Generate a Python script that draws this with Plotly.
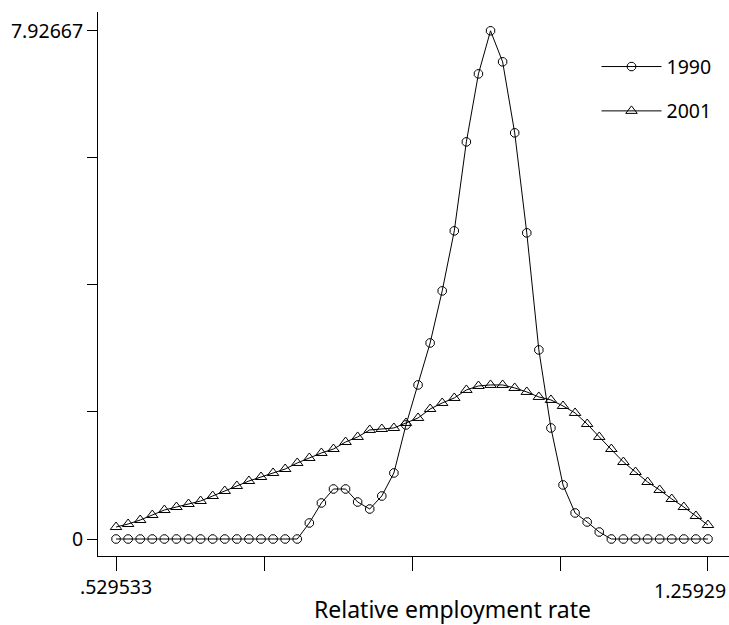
import plotly.graph_objects as go

# Evaluation grid (Relative employment rate)
x_grid = [0.529533, 0.544426, 0.559319, 0.574212, 0.589105, 0.603998, 0.618891, 0.633784,
          0.648677, 0.663570, 0.678463, 0.693356, 0.708249, 0.723142, 0.738035, 0.752928,
          0.767821, 0.782714, 0.797607, 0.812500, 0.827393, 0.842286, 0.857179, 0.872072,
          0.886965, 0.901858, 0.916751, 0.931644, 0.946537, 0.961430, 0.976323, 0.991216,
          1.006109, 1.021002, 1.035895, 1.050788, 1.065681, 1.080574, 1.095467, 1.110360,
          1.125253, 1.140146, 1.155039, 1.169932, 1.184825, 1.199718, 1.214611, 1.229504,
          1.244397, 1.259290]

density_1990 = [0, 0, 0, 0, 0, 0, 0, 0, 0, 0, 0, 0, 0, 0, 0, 0,
                0.250, 0.562, 0.780, 0.780, 0.577, 0.468, 0.671, 1.030,
                1.779, 2.403, 3.058, 3.870, 4.806, 6.194, 7.255, 7.92667,
                7.443, 6.335, 4.775, 2.949, 1.732, 0.843, 0.406, 0.265,
                0.109, 0, 0, 0, 0, 0, 0, 0, 0, 0]

density_2001 = [0.187, 0.234, 0.296, 0.374, 0.452, 0.499, 0.546, 0.593, 0.671, 0.749,
                0.827, 0.905, 0.967, 1.030, 1.092, 1.186, 1.264, 1.342, 1.404, 1.513,
                1.592, 1.701, 1.716, 1.732, 1.810, 1.888, 2.028, 2.122, 2.200, 2.325,
                2.387, 2.403, 2.403, 2.356, 2.294, 2.216, 2.169, 2.075, 1.966, 1.794,
                1.592, 1.404, 1.201, 1.045, 0.889, 0.765, 0.624, 0.499, 0.359, 0.218]

x_tickvals = [0.529533, 0.711972, 0.894412, 1.076851, 1.25929]
x_ticktext = [".529533", "", "", "", ""]
x_last_label = "1.25929"
y_tickvals = [0, 1.98167, 3.96333, 5.945, 7.92667]
y_ticktext = ["0", "", "", "", "7.92667"]

FONT = "Noto Sans"
TICK_SIZE = 19.5
TITLE_SIZE = 23

fig = go.Figure()
fig.add_trace(go.Scatter(
    x=x_grid, y=density_1990, name="1990", mode="lines+markers",
    line=dict(color="black", width=1),
    marker=dict(symbol="octagon-open", size=9, color="black", line=dict(width=1, color="black")),
    legendgroup="a"))
fig.add_trace(go.Scatter(
    x=x_grid, y=density_2001, name="2001", mode="lines+markers",
    line=dict(color="black", width=1),
    marker=dict(symbol="triangle-up-open", size=10, color="black", line=dict(width=1, color="black")),
    legendgroup="b"))

fig.update_layout(
    width=729, height=625,
    margin=dict(l=98, r=0, t=12, b=69),
    paper_bgcolor="white", plot_bgcolor="white",
    font=dict(family=FONT, size=TICK_SIZE, color="black"),
    showlegend=True,
    legend=dict(x=0.79, y=0.935, xanchor="left", yanchor="top",
                bgcolor="rgba(0,0,0,0)", font=dict(size=TICK_SIZE),
                tracegroupgap=16, traceorder="grouped", itemwidth=60),
    xaxis=dict(range=[0.5073, 1.2852], showgrid=False, zeroline=False,
               showline=True, linecolor="black", linewidth=1,
               ticks="outside", ticklen=14, tickcolor="black", tickwidth=1,
               tickvals=x_tickvals, ticktext=x_ticktext, tickfont=dict(size=TICK_SIZE)),
    yaxis=dict(range=[-0.265, 8.22], showgrid=False, zeroline=False,
               showline=True, linecolor="black", linewidth=1,
               ticks="outside", ticklen=10, tickcolor="black", tickwidth=1,
               tickvals=y_tickvals, ticktext=y_ticktext, tickfont=dict(size=TICK_SIZE)),
    annotations=[
        dict(text="Relative employment rate", xref="paper", yref="paper",
             x=(452 - 98) / 631, y=-(609 - 556) / 544,
             xanchor="center", yanchor="middle", showarrow=False,
             font=dict(size=TITLE_SIZE)),
        dict(text=x_last_label, xref="x", yref="paper",
             x=x_tickvals[-1], xshift=20, y=-(590 - 556) / 544,
             xanchor="right", yanchor="middle", showarrow=False,
             font=dict(size=TICK_SIZE)),
    ],
)

fig.write_html("out.html")
